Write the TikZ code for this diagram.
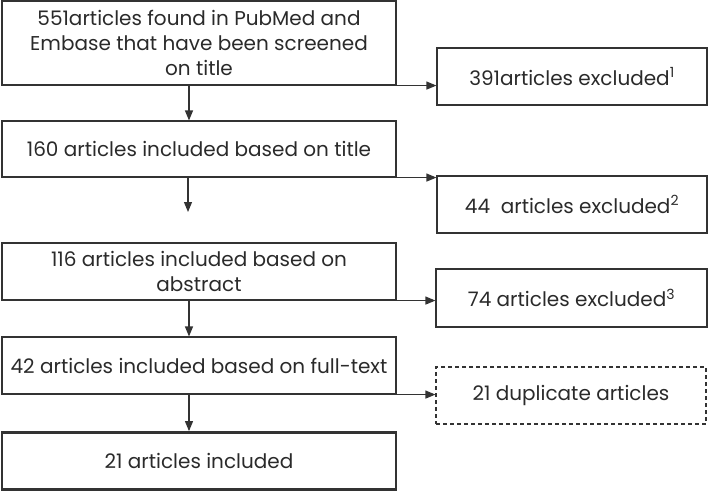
\documentclass[tikz,border=0pt]{standalone}
\usepackage{fontspec}
\setmainfont{Poppins}
\usetikzlibrary{arrows.meta}
\definecolor{ln}{HTML}{333333}
\definecolor{tx}{HTML}{2a2a2a}
\tikzset{
  box/.style={draw=ln, line width=1.1pt, rectangle, align=center, inner sep=0pt,
              font=\fontsize{20}{25}\selectfont, text=tx},
  thickbox/.style={box, line width=2.8pt},
  dashbox/.style={box, dash pattern=on 4pt off 3pt},
  arr/.style={draw=ln, line width=1.1pt, -{Triangle[length=10pt,width=8pt]}}
}
\begin{document}
\begin{tikzpicture}[x=1pt,y=-1pt]
\useasboundingbox (0,0) rectangle (709,493);
\node[box, minimum width=394pt, minimum height=84pt] (b1) at (199,43)
  {551articles found in PubMed and\\Embase that have been screened\\on title};
\node[box, minimum width=270pt, minimum height=57pt] (r1) at (572,76.5)
  {391articles excluded\textsuperscript{1}};
\node[box, minimum width=394pt, minimum height=56pt] (b2) at (199,149)
  {160 articles included based on title};
\node[box, minimum width=270pt, minimum height=57pt] (r2) at (572,204.5)
  {44\ \ articles excluded\textsuperscript{2}};
\node[box, minimum width=394pt, minimum height=57pt] (b3) at (199,271.5)
  {116 articles included based on\\abstract};
\node[box, minimum width=271pt, minimum height=58pt] (r3) at (571.5,298)
  {74 articles excluded\textsuperscript{3}};
\node[box, minimum width=394pt, minimum height=57pt] (b4) at (199,365.5)
  {42 articles included based on full-text};
\node[dashbox, minimum width=270pt, minimum height=57pt] (r4) at (571,395.5)
  {21 duplicate articles};
\node[thickbox, minimum width=394pt, minimum height=57pt] (b5) at (199,461)
  {21 articles included};
\coordinate (e2) at (188,212);
\draw[arr] (b1.south east) -- (b1.south east -| r1.west);
\draw[arr] (b2.south east) -- (b2.south east -| r2.west);
\draw[arr] (b3.south east) -- (b3.south east -| r3.west);
\draw[arr] (b4.south east) -- (b4.south east -| r4.west);
\draw[arr] ([xshift=-10pt]b1.south) -- ([xshift=-10pt]b2.north);
\draw[arr] (b2.south -| e2) -- (e2);
\draw[arr] ([xshift=-10pt]b3.south) -- ([xshift=-10pt]b4.north);
\draw[arr] ([xshift=-10pt]b4.south) -- ([xshift=-10pt]b5.north);
\end{tikzpicture}
\end{document}
